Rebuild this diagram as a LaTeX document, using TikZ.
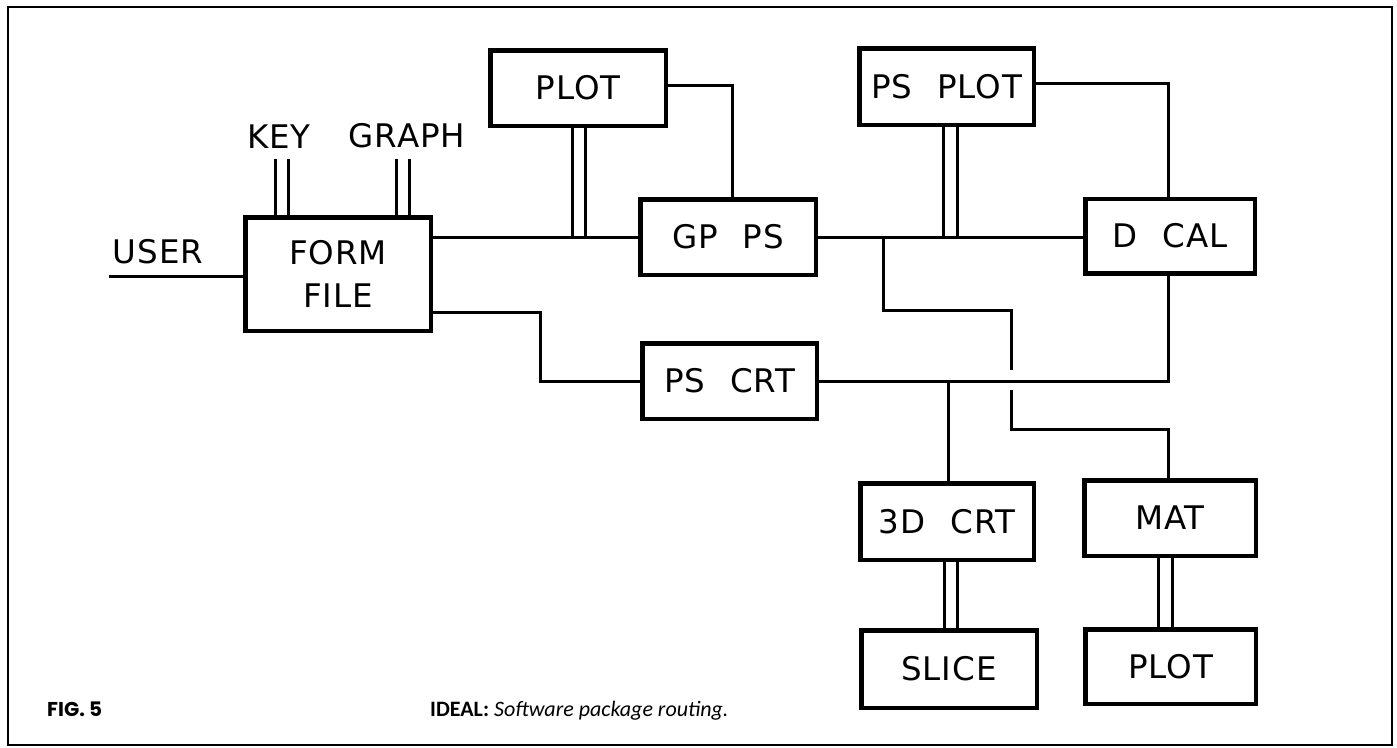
\documentclass[tikz,border=0pt]{standalone}
\usepackage{fontspec}
\setmainfont{DejaVu Sans}[WordSpace=2.2, LetterSpace=3]
\newfontfamily\capfont{Carlito}
\newfontfamily\figfont{Poppins}
\begin{document}
\begin{tikzpicture}[x=1pt,y=-1pt,
  lbl/.style={font=\fontsize{32.5}{43}\selectfont, inner sep=0pt, align=center},
  box/.style={draw, line width=4.5pt, lbl},
  conn/.style={line width=3pt, line cap=rect}]
\fill[white] (0,0) rectangle (1397,747);
\useasboundingbox (0,0) rectangle (1397,747);
\draw[line width=2pt] (8,7) rectangle (1392,745);

% boxes
\node[box, minimum width=185.5, minimum height=113.5] (ff) at (338,274) {FORM\\FILE};
\node[box, minimum width=175.5, minimum height=75.5] (plot) at (578,88) {PLOT};
\node[box, minimum width=175.5, minimum height=75.5] (gp) at (728,237) {GP PS};
\node[box, minimum width=174.5, minimum height=76.5] (psplot) at (946.5,86.5) {PS PLOT};
\node[box, minimum width=169.5, minimum height=74.5] (dcal) at (1170,236) {D CAL};
\node[box, minimum width=174.5, minimum height=75.5] (pscrt) at (729.5,381) {PS CRT};
\node[box, minimum width=173.5, minimum height=76.5] (crt) at (947,521.5) {3D CRT};
\node[box, minimum width=175.5, minimum height=77.5] (slice) at (949,669) {SLICE};
\node[box, minimum width=171.5, minimum height=75.5] (mat) at (1170,518) {MAT};
\node[box, minimum width=170.5, minimum height=74.5] (plotb) at (1170.5,666.5) {PLOT};

% free labels
\node[lbl] (user) at (158,252) {USER};
\node[lbl] (key) at (279,137) {KEY};
\node[lbl] (graph) at (407,136) {GRAPH};

% free ends
\coordinate (uin) at (110,276);
\coordinate (k1) at (275,160);
\coordinate (k2) at (288,160);
\coordinate (g1) at (396,160);
\coordinate (g2) at (409,160);
\coordinate (gapA) at (1011,368);
\coordinate (gapB) at (1011,391);

% USER, KEY, GRAPH
\draw[conn] (uin) -- (uin -| ff.west);
\draw[conn] (k1) -- (k1 |- ff.north);
\draw[conn] (k2) -- (k2 |- ff.north);
\draw[conn] (g1) -- (g1 |- ff.north);
\draw[conn] (g2) -- (g2 |- ff.north);

% upper bus
\draw[conn] (ff.east |- gp.west) -- (gp.west);
\draw[conn] (plot.south -| 572,0) -- (572,0 |- gp.west);
\draw[conn] (plot.south -| 585,0) -- (585,0 |- gp.west);
\draw[conn] (plot.east |- 0,85) -- (732,85) -- (732,0 |- gp.north);

\draw[conn] (gp.east) -- (gp.east -| dcal.west);
\draw[conn] (psplot.south -| 943,0) -- (943,0 |- gp.east);
\draw[conn] (psplot.south -| 957,0) -- (957,0 |- gp.east);
\draw[conn] (psplot.east |- 0,83) -- (1168,83) -- (1168,0 |- dcal.north);

% lower bus
\draw[conn] (dcal.south -| 1168,0) -- (1168,0 |- pscrt.east) -- (pscrt.east);
\draw[conn] (ff.east |- 0,312) -- (540,312) -- (540,0 |- pscrt.west) -- (pscrt.west);
\draw[conn] (948,0 |- pscrt.east) -- (948,0 |- crt.north);

% MAT branch with crossing gap
\draw[conn] (883,0 |- gp.east) -- (883,310) -- (1011,310) -- (gapA);
\draw[conn] (gapB) -- (1011,429) -- (1168,429) -- (1168,0 |- mat.north);

% double links at bottom
\draw[conn] (crt.south -| 944,0) -- (944,0 |- slice.north);
\draw[conn] (crt.south -| 957,0) -- (957,0 |- slice.north);
\draw[conn] (mat.south -| 1158,0) -- (1158,0 |- plotb.north);
\draw[conn] (mat.south -| 1172,0) -- (1172,0 |- plotb.north);

% caption
\node[anchor=base west, inner sep=0pt, font=\figfont\bfseries\fontsize{20}{24}\selectfont] (fig) at (47,716) {FIG. 5};
\node[anchor=base west, inner sep=0pt, font=\capfont\fontsize{22}{26}\selectfont] (cap) at (430,716) {\textbf{IDEAL:} \textit{Software package routing.}};
\end{tikzpicture}
\end{document}
